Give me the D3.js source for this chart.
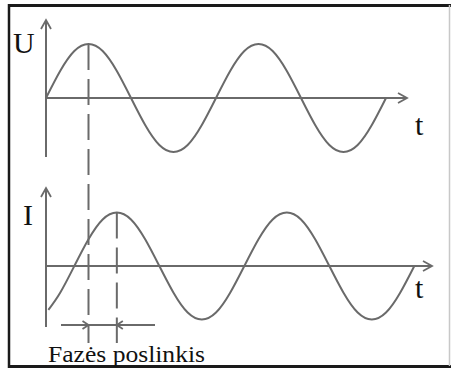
<!DOCTYPE html>
<html>
<head>
<meta charset="utf-8">
<script src="https://cdn.jsdelivr.net/npm/d3@7"></script>
<style>
  html, body { margin: 0; padding: 0; background: #fff; }
  svg { display: block; }
</style>
</head>
<body>
<svg id="chart" width="451" height="369"></svg>
<script>
// Phase angle (degrees) along the time axis
const uPhase = [0, 30, 60, 90, 120, 150, 180, 210, 240, 270, 300, 330, 360,
                390, 420, 450, 480, 510, 540, 570, 600, 630, 660, 690, 720];
// Voltage U (relative amplitude)
const uValues = [0, 0.5, 0.87, 1, 0.87, 0.5, 0, -0.5, -0.87, -1, -0.87, -0.5, 0,
                 0.5, 0.87, 1, 0.87, 0.5, 0, -0.5, -0.87, -1, -0.87, -0.5, 0];
// Current I, lagging the voltage
const iPhase = [5, 30, 60, 90, 120, 150, 180, 210, 240, 270, 300, 330, 360,
                390, 420, 450, 480, 510, 540, 570, 600, 630, 660, 690, 720, 750, 780];
const iValues = [-0.82, -0.5, 0, 0.5, 0.87, 1, 0.87, 0.5, 0, -0.5, -0.87, -1, -0.87,
                 -0.5, 0, 0.5, 0.87, 1, 0.87, 0.5, 0, -0.5, -0.87, -1, -0.87, -0.5, 0];
// Peaks marked by the dashed guides
const peakU = 90;
const peakI = 150;
// Labels
const uLabel = "U";
const iLabel = "I";
const tLabel = "t";
const shiftLabel = "Fazės poslinkis";

const svg = d3.select("#chart");
const ink = "#6a6a6a";
const serif = "Liberation Serif";

// Frame
svg.append("line").attr("x1", 9).attr("y1", 5.5).attr("x2", 451).attr("y2", 5.5)
  .attr("stroke", "#1a1a1a").attr("stroke-width", 3);
svg.append("line").attr("x1", 9).attr("y1", 4).attr("x2", 9).attr("y2", 368)
  .attr("stroke", "#1a1a1a").attr("stroke-width", 2.5);
svg.append("line").attr("x1", 8).attr("y1", 366.5).attr("x2", 451).attr("y2", 366.5)
  .attr("stroke", "#1a1a1a").attr("stroke-width", 3);
svg.append("line").attr("x1", 449.5).attr("y1", 5).attr("x2", 449.5).attr("y2", 366)
  .attr("stroke", "#c8c8c8").attr("stroke-width", 1.5);

// Shared time scale
const x = d3.scaleLinear().domain([0, 720]).range([46, 386]);

// Panel scales
const yU = d3.scaleLinear().domain([-1, 1]).range([152, 44]);
const yI = d3.scaleLinear().domain([-1, 1]).range([319.5, 212.5]);

function chevron(g, tx, ty, dir, len, half) {
  let p;
  if (dir === "right") p = [[tx - len, ty - half], [tx, ty], [tx - len, ty + half]];
  if (dir === "left")  p = [[tx + len, ty - half], [tx, ty], [tx + len, ty + half]];
  if (dir === "up")    p = [[tx - half, ty + len], [tx, ty], [tx + half, ty + len]];
  g.append("path").attr("d", d3.line()(p))
    .attr("fill", "none").attr("stroke", ink).attr("stroke-width", 1.8)
    .attr("stroke-linejoin", "miter");
}

function label(g, tx, ty, size, str) {
  return g.append("text").attr("x", tx).attr("y", ty)
    .attr("font-family", serif).attr("font-size", size)
    .attr("fill", "#111").text(str);
}

function panel(yScale, top, bottom, xEnd, name, labelX, labelY, tY, phases, values) {
  const g = svg.append("g");
  const y0 = yScale(0);
  const ax = x(0);
  // vertical axis
  g.append("line").attr("x1", ax).attr("x2", ax).attr("y1", top).attr("y2", bottom)
    .attr("stroke", ink).attr("stroke-width", 2);
  chevron(g, ax, top, "up", 9, 5);
  // horizontal axis
  g.append("line").attr("x1", ax).attr("x2", xEnd).attr("y1", y0).attr("y2", y0)
    .attr("stroke", ink).attr("stroke-width", 2);
  chevron(g, xEnd, y0, "right", 9, 5);
  // curve
  const line = d3.line()
    .x((d, i) => x(phases[i]))
    .y(d => yScale(d))
    .curve(d3.curveNatural);
  g.append("path").datum(values).attr("d", line)
    .attr("fill", "none").attr("stroke", ink).attr("stroke-width", 2);
  // labels
  label(g, labelX, labelY, 30, name);
  label(g, 415, tY, 30, tLabel);
}

panel(yU, 20, 157, 407, uLabel, 13, 53, 135, uPhase, uValues);
panel(yI, 188, 327, 432, iLabel, 23, 225, 298, iPhase, iValues);

// Dashed guides from each peak
const guides = [
  { t: peakU, y: yU(1) },
  { t: peakI, y: yI(1) }
];
svg.selectAll("line.guide").data(guides).join("line")
  .attr("class", "guide")
  .attr("x1", d => x(d.t)).attr("x2", d => x(d.t))
  .attr("y1", d => d.y).attr("y2", 343)
  .attr("stroke", ink).attr("stroke-width", 2)
  .attr("stroke-dasharray", "26,9");

// Phase shift indicator
const ay = 325;
svg.append("line").attr("x1", 61).attr("x2", 155).attr("y1", ay).attr("y2", ay)
  .attr("stroke", ink).attr("stroke-width", 2);
chevron(svg, x(peakU), ay, "right", 6, 4);
chevron(svg, x(peakI), ay, "left", 6, 4);

label(svg, 48, 362, 24, shiftLabel)
  .attr("textLength", 157).attr("lengthAdjust", "spacingAndGlyphs");
</script>
</body>
</html>
